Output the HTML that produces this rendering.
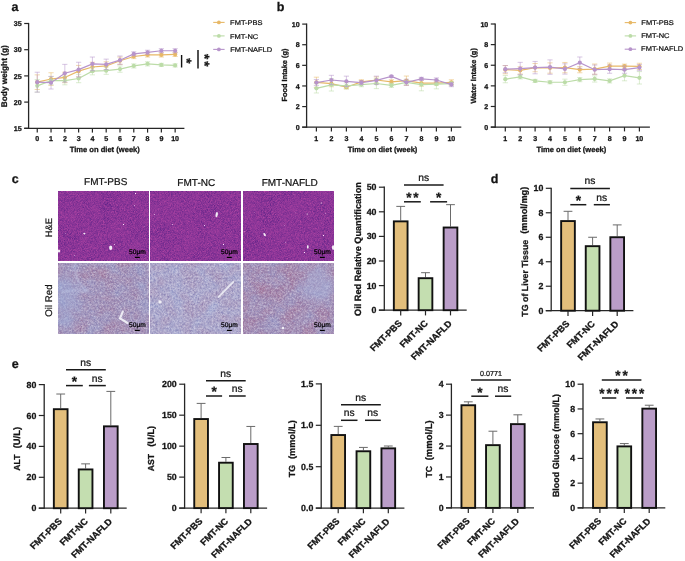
<!DOCTYPE html>
<html><head><meta charset="utf-8"><style>
html,body{margin:0;padding:0;background:#fff;width:685px;height:561px;overflow:hidden}
svg{display:block;font-family:"Liberation Sans", sans-serif;text-rendering:geometricPrecision;filter:blur(0.3px)}
</style></head><body>
<svg width="685" height="561" viewBox="0 0 685 561">
<rect width="685" height="561" fill="#fff"/>
<text transform="translate(14.88 10.55)" font-size="12.50" font-weight="bold" stroke="#141414" stroke-width="0.28" text-anchor="middle" fill="#141414">a</text>
<text transform="translate(280.44 10.75)" font-size="12.50" font-weight="bold" stroke="#141414" stroke-width="0.28" text-anchor="middle" fill="#141414">b</text>
<text transform="translate(15.26 182.75)" font-size="12.50" font-weight="bold" stroke="#141414" stroke-width="0.28" text-anchor="middle" fill="#141414">c</text>
<text transform="translate(494.61 182.82)" font-size="12.50" font-weight="bold" stroke="#141414" stroke-width="0.28" text-anchor="middle" fill="#141414">d</text>
<text transform="translate(15.27 368.25)" font-size="12.50" font-weight="bold" stroke="#141414" stroke-width="0.28" text-anchor="middle" fill="#141414">e</text>
<line x1="28.60" y1="22.90" x2="28.60" y2="128.90" stroke="#262626" stroke-width="1.3"/>
<line x1="24.20" y1="128.30" x2="184.40" y2="128.30" stroke="#262626" stroke-width="1.3"/>
<line x1="24.20" y1="128.30" x2="28.60" y2="128.30" stroke="#262626" stroke-width="1.2"/>
<text transform="translate(21.70 130.91)" font-size="7.10" font-weight="bold" stroke="#141414" stroke-width="0.28" text-anchor="end" fill="#141414">15</text>
<line x1="24.20" y1="102.10" x2="28.60" y2="102.10" stroke="#262626" stroke-width="1.2"/>
<text transform="translate(21.70 104.74)" font-size="7.10" font-weight="bold" stroke="#141414" stroke-width="0.28" text-anchor="end" fill="#141414">20</text>
<line x1="24.20" y1="75.90" x2="28.60" y2="75.90" stroke="#262626" stroke-width="1.2"/>
<text transform="translate(21.70 78.54)" font-size="7.10" font-weight="bold" stroke="#141414" stroke-width="0.28" text-anchor="end" fill="#141414">25</text>
<line x1="24.20" y1="49.70" x2="28.60" y2="49.70" stroke="#262626" stroke-width="1.2"/>
<text transform="translate(21.70 52.34)" font-size="7.10" font-weight="bold" stroke="#141414" stroke-width="0.28" text-anchor="end" fill="#141414">30</text>
<line x1="24.20" y1="23.50" x2="28.60" y2="23.50" stroke="#262626" stroke-width="1.2"/>
<text transform="translate(21.70 26.14)" font-size="7.10" font-weight="bold" stroke="#141414" stroke-width="0.28" text-anchor="end" fill="#141414">35</text>
<line x1="37.25" y1="128.30" x2="37.25" y2="132.60" stroke="#262626" stroke-width="1.2"/>
<text transform="translate(37.26 140.74)" font-size="7.10" font-weight="bold" stroke="#141414" stroke-width="0.28" text-anchor="middle" fill="#141414">0</text>
<line x1="51.04" y1="128.30" x2="51.04" y2="132.60" stroke="#262626" stroke-width="1.2"/>
<text transform="translate(50.92 140.74)" font-size="7.10" font-weight="bold" stroke="#141414" stroke-width="0.28" text-anchor="middle" fill="#141414">1</text>
<line x1="64.83" y1="128.30" x2="64.83" y2="132.60" stroke="#262626" stroke-width="1.2"/>
<text transform="translate(64.85 140.78)" font-size="7.10" font-weight="bold" stroke="#141414" stroke-width="0.28" text-anchor="middle" fill="#141414">2</text>
<line x1="78.62" y1="128.30" x2="78.62" y2="132.60" stroke="#262626" stroke-width="1.2"/>
<text transform="translate(78.67 140.74)" font-size="7.10" font-weight="bold" stroke="#141414" stroke-width="0.28" text-anchor="middle" fill="#141414">3</text>
<line x1="92.41" y1="128.30" x2="92.41" y2="132.60" stroke="#262626" stroke-width="1.2"/>
<text transform="translate(92.38 140.74)" font-size="7.10" font-weight="bold" stroke="#141414" stroke-width="0.28" text-anchor="middle" fill="#141414">4</text>
<line x1="106.20" y1="128.30" x2="106.20" y2="132.60" stroke="#262626" stroke-width="1.2"/>
<text transform="translate(106.19 140.71)" font-size="7.10" font-weight="bold" stroke="#141414" stroke-width="0.28" text-anchor="middle" fill="#141414">5</text>
<line x1="119.99" y1="128.30" x2="119.99" y2="132.60" stroke="#262626" stroke-width="1.2"/>
<text transform="translate(119.99 140.74)" font-size="7.10" font-weight="bold" stroke="#141414" stroke-width="0.28" text-anchor="middle" fill="#141414">6</text>
<line x1="133.78" y1="128.30" x2="133.78" y2="132.60" stroke="#262626" stroke-width="1.2"/>
<text transform="translate(133.78 140.74)" font-size="7.10" font-weight="bold" stroke="#141414" stroke-width="0.28" text-anchor="middle" fill="#141414">7</text>
<line x1="147.57" y1="128.30" x2="147.57" y2="132.60" stroke="#262626" stroke-width="1.2"/>
<text transform="translate(147.57 140.74)" font-size="7.10" font-weight="bold" stroke="#141414" stroke-width="0.28" text-anchor="middle" fill="#141414">8</text>
<line x1="161.36" y1="128.30" x2="161.36" y2="132.60" stroke="#262626" stroke-width="1.2"/>
<text transform="translate(161.37 140.74)" font-size="7.10" font-weight="bold" stroke="#141414" stroke-width="0.28" text-anchor="middle" fill="#141414">9</text>
<line x1="175.15" y1="128.30" x2="175.15" y2="132.60" stroke="#262626" stroke-width="1.2"/>
<text transform="translate(175.07 140.74)" font-size="7.10" font-weight="bold" stroke="#141414" stroke-width="0.28" text-anchor="middle" fill="#141414">10</text>
<path d="M37.25 74.85V89.52M34.65 74.85H39.85M34.65 89.52H39.85" stroke="#E7B867" stroke-width="0.9" opacity="0.6" fill="none"/>
<path d="M51.04 72.76V85.33M48.44 72.76H53.64M48.44 85.33H53.64" stroke="#E7B867" stroke-width="0.9" opacity="0.6" fill="none"/>
<path d="M64.83 72.23V82.71M62.23 72.23H67.43M62.23 82.71H67.43" stroke="#E7B867" stroke-width="0.9" opacity="0.6" fill="none"/>
<path d="M78.62 65.42V76.95M76.02 65.42H81.22M76.02 76.95H81.22" stroke="#E7B867" stroke-width="0.9" opacity="0.6" fill="none"/>
<path d="M92.41 62.28V71.71M89.81 62.28H95.01M89.81 71.71H95.01" stroke="#E7B867" stroke-width="0.9" opacity="0.6" fill="none"/>
<path d="M106.20 61.75V70.14M103.60 61.75H108.80M103.60 70.14H108.80" stroke="#E7B867" stroke-width="0.9" opacity="0.6" fill="none"/>
<path d="M119.99 57.04V64.37M117.39 57.04H122.59M117.39 64.37H122.59" stroke="#E7B867" stroke-width="0.9" opacity="0.6" fill="none"/>
<path d="M133.78 54.42V58.61M131.18 54.42H136.38M131.18 58.61H136.38" stroke="#E7B867" stroke-width="0.9" opacity="0.6" fill="none"/>
<path d="M147.57 52.84V57.04M144.97 52.84H150.17M144.97 57.04H150.17" stroke="#E7B867" stroke-width="0.9" opacity="0.6" fill="none"/>
<path d="M161.36 52.84V57.04M158.76 52.84H163.96M158.76 57.04H163.96" stroke="#E7B867" stroke-width="0.9" opacity="0.6" fill="none"/>
<path d="M175.15 52.32V56.51M172.55 52.32H177.75M172.55 56.51H177.75" stroke="#E7B867" stroke-width="0.9" opacity="0.6" fill="none"/>
<path d="M37.25 82.19 L51.04 79.04 L64.83 77.47 L78.62 71.18 L92.41 66.99 L106.20 65.94 L119.99 60.70 L133.78 56.51 L147.57 54.94 L161.36 54.94 L175.15 54.42" stroke="#E7B867" stroke-width="1.2" fill="none"/>
<circle cx="37.25" cy="82.19" r="2.1" fill="#E7B867"/>
<circle cx="51.04" cy="79.04" r="2.1" fill="#E7B867"/>
<circle cx="64.83" cy="77.47" r="2.1" fill="#E7B867"/>
<circle cx="78.62" cy="71.18" r="2.1" fill="#E7B867"/>
<circle cx="92.41" cy="66.99" r="2.1" fill="#E7B867"/>
<circle cx="106.20" cy="65.94" r="2.1" fill="#E7B867"/>
<circle cx="119.99" cy="60.70" r="2.1" fill="#E7B867"/>
<circle cx="133.78" cy="56.51" r="2.1" fill="#E7B867"/>
<circle cx="147.57" cy="54.94" r="2.1" fill="#E7B867"/>
<circle cx="161.36" cy="54.94" r="2.1" fill="#E7B867"/>
<circle cx="175.15" cy="54.42" r="2.1" fill="#E7B867"/>
<path d="M37.25 79.57V92.14M34.65 79.57H39.85M34.65 92.14H39.85" stroke="#BCDCA8" stroke-width="0.9" opacity="0.6" fill="none"/>
<path d="M51.04 76.42V84.81M48.44 76.42H53.64M48.44 84.81H53.64" stroke="#BCDCA8" stroke-width="0.9" opacity="0.6" fill="none"/>
<path d="M64.83 76.42V84.81M62.23 76.42H67.43M62.23 84.81H67.43" stroke="#BCDCA8" stroke-width="0.9" opacity="0.6" fill="none"/>
<path d="M78.62 74.33V82.71M76.02 74.33H81.22M76.02 82.71H81.22" stroke="#BCDCA8" stroke-width="0.9" opacity="0.6" fill="none"/>
<path d="M92.41 67.52V74.85M89.81 67.52H95.01M89.81 74.85H95.01" stroke="#BCDCA8" stroke-width="0.9" opacity="0.6" fill="none"/>
<path d="M106.20 66.99V74.33M103.60 66.99H108.80M103.60 74.33H108.80" stroke="#BCDCA8" stroke-width="0.9" opacity="0.6" fill="none"/>
<path d="M119.99 65.94V72.23M117.39 65.94H122.59M117.39 72.23H122.59" stroke="#BCDCA8" stroke-width="0.9" opacity="0.6" fill="none"/>
<path d="M133.78 63.85V68.04M131.18 63.85H136.38M131.18 68.04H136.38" stroke="#BCDCA8" stroke-width="0.9" opacity="0.6" fill="none"/>
<path d="M147.57 61.75V65.94M144.97 61.75H150.17M144.97 65.94H150.17" stroke="#BCDCA8" stroke-width="0.9" opacity="0.6" fill="none"/>
<path d="M161.36 63.32V66.47M158.76 63.32H163.96M158.76 66.47H163.96" stroke="#BCDCA8" stroke-width="0.9" opacity="0.6" fill="none"/>
<path d="M175.15 63.85V66.99M172.55 63.85H177.75M172.55 66.99H177.75" stroke="#BCDCA8" stroke-width="0.9" opacity="0.6" fill="none"/>
<path d="M37.25 85.86 L51.04 80.62 L64.83 80.62 L78.62 78.52 L92.41 71.18 L106.20 70.66 L119.99 69.09 L133.78 65.94 L147.57 63.85 L161.36 64.90 L175.15 65.42" stroke="#BCDCA8" stroke-width="1.2" fill="none"/>
<circle cx="37.25" cy="85.86" r="2.1" fill="#BCDCA8"/>
<circle cx="51.04" cy="80.62" r="2.1" fill="#BCDCA8"/>
<circle cx="64.83" cy="80.62" r="2.1" fill="#BCDCA8"/>
<circle cx="78.62" cy="78.52" r="2.1" fill="#BCDCA8"/>
<circle cx="92.41" cy="71.18" r="2.1" fill="#BCDCA8"/>
<circle cx="106.20" cy="70.66" r="2.1" fill="#BCDCA8"/>
<circle cx="119.99" cy="69.09" r="2.1" fill="#BCDCA8"/>
<circle cx="133.78" cy="65.94" r="2.1" fill="#BCDCA8"/>
<circle cx="147.57" cy="63.85" r="2.1" fill="#BCDCA8"/>
<circle cx="161.36" cy="64.90" r="2.1" fill="#BCDCA8"/>
<circle cx="175.15" cy="65.42" r="2.1" fill="#BCDCA8"/>
<path d="M37.25 72.23V92.14M34.65 72.23H39.85M34.65 92.14H39.85" stroke="#B794CB" stroke-width="0.9" opacity="0.6" fill="none"/>
<path d="M51.04 76.42V89.00M48.44 76.42H53.64M48.44 89.00H53.64" stroke="#B794CB" stroke-width="0.9" opacity="0.6" fill="none"/>
<path d="M64.83 64.37V82.19M62.23 64.37H67.43M62.23 82.19H67.43" stroke="#B794CB" stroke-width="0.9" opacity="0.6" fill="none"/>
<path d="M78.62 62.28V76.95M76.02 62.28H81.22M76.02 76.95H81.22" stroke="#B794CB" stroke-width="0.9" opacity="0.6" fill="none"/>
<path d="M92.41 57.04V70.66M89.81 57.04H95.01M89.81 70.66H95.01" stroke="#B794CB" stroke-width="0.9" opacity="0.6" fill="none"/>
<path d="M106.20 59.13V69.61M103.60 59.13H108.80M103.60 69.61H108.80" stroke="#B794CB" stroke-width="0.9" opacity="0.6" fill="none"/>
<path d="M119.99 55.99V64.37M117.39 55.99H122.59M117.39 64.37H122.59" stroke="#B794CB" stroke-width="0.9" opacity="0.6" fill="none"/>
<path d="M133.78 51.80V55.99M131.18 51.80H136.38M131.18 55.99H136.38" stroke="#B794CB" stroke-width="0.9" opacity="0.6" fill="none"/>
<path d="M147.57 50.22V54.42M144.97 50.22H150.17M144.97 54.42H150.17" stroke="#B794CB" stroke-width="0.9" opacity="0.6" fill="none"/>
<path d="M161.36 48.65V52.84M158.76 48.65H163.96M158.76 52.84H163.96" stroke="#B794CB" stroke-width="0.9" opacity="0.6" fill="none"/>
<path d="M175.15 48.65V52.84M172.55 48.65H177.75M172.55 52.84H177.75" stroke="#B794CB" stroke-width="0.9" opacity="0.6" fill="none"/>
<path d="M37.25 82.19 L51.04 82.71 L64.83 73.28 L78.62 69.61 L92.41 63.85 L106.20 64.37 L119.99 60.18 L133.78 53.89 L147.57 52.32 L161.36 50.75 L175.15 50.75" stroke="#B794CB" stroke-width="1.2" fill="none"/>
<circle cx="37.25" cy="82.19" r="2.1" fill="#B794CB"/>
<circle cx="51.04" cy="82.71" r="2.1" fill="#B794CB"/>
<circle cx="64.83" cy="73.28" r="2.1" fill="#B794CB"/>
<circle cx="78.62" cy="69.61" r="2.1" fill="#B794CB"/>
<circle cx="92.41" cy="63.85" r="2.1" fill="#B794CB"/>
<circle cx="106.20" cy="64.37" r="2.1" fill="#B794CB"/>
<circle cx="119.99" cy="60.18" r="2.1" fill="#B794CB"/>
<circle cx="133.78" cy="53.89" r="2.1" fill="#B794CB"/>
<circle cx="147.57" cy="52.32" r="2.1" fill="#B794CB"/>
<circle cx="161.36" cy="50.75" r="2.1" fill="#B794CB"/>
<circle cx="175.15" cy="50.75" r="2.1" fill="#B794CB"/>
<text transform="translate(7.02 76.22) rotate(-90)" font-size="8.26" font-weight="bold" stroke="#141414" stroke-width="0.28" text-anchor="middle" fill="#141414">Body weight (g)</text>
<text transform="translate(104.75 152.11)" font-size="7.58" font-weight="bold" stroke="#141414" stroke-width="0.28" text-anchor="middle" fill="#141414">Time on diet (week)</text>
<line x1="181.60" y1="55.00" x2="181.60" y2="67.50" stroke="#111" stroke-width="1.4"/>
<text transform="translate(182.27 60.89) rotate(90)" font-size="13.50" font-weight="bold" stroke="#141414" stroke-width="0.28" text-anchor="middle" fill="#141414">*</text>
<line x1="198.00" y1="50.10" x2="198.00" y2="68.40" stroke="#333" stroke-width="1.7"/>
<text transform="translate(199.57 56.54) rotate(90)" font-size="13.50" font-weight="bold" stroke="#141414" stroke-width="0.28" text-anchor="middle" fill="#141414">*</text>
<text transform="translate(199.57 63.94) rotate(90)" font-size="13.50" font-weight="bold" stroke="#141414" stroke-width="0.28" text-anchor="middle" fill="#141414">*</text>
<line x1="213.20" y1="22.40" x2="224.60" y2="22.40" stroke="#E7B867" stroke-width="1.1"/>
<circle cx="218.90" cy="22.40" r="1.9" fill="#E7B867"/>
<text transform="translate(230.11 25.19) scale(1.100 1)" font-size="6.80" stroke="#141414" stroke-width="0.22" text-anchor="start" fill="#141414">FMT-PBS</text>
<line x1="213.20" y1="35.90" x2="224.60" y2="35.90" stroke="#BCDCA8" stroke-width="1.1"/>
<circle cx="218.90" cy="35.90" r="1.9" fill="#BCDCA8"/>
<text transform="translate(229.96 38.69) scale(1.100 1)" font-size="6.80" stroke="#141414" stroke-width="0.22" text-anchor="start" fill="#141414">FMT-NC</text>
<line x1="213.20" y1="49.40" x2="224.60" y2="49.40" stroke="#B794CB" stroke-width="1.1"/>
<circle cx="218.90" cy="49.40" r="1.9" fill="#B794CB"/>
<text transform="translate(230.19 51.69) scale(1.100 1)" font-size="6.80" stroke="#141414" stroke-width="0.22" text-anchor="start" fill="#141414">FMT-NAFLD</text>
<line x1="306.60" y1="23.50" x2="306.60" y2="127.80" stroke="#262626" stroke-width="1.3"/>
<line x1="302.20" y1="127.20" x2="461.30" y2="127.20" stroke="#262626" stroke-width="1.3"/>
<line x1="302.20" y1="127.20" x2="306.60" y2="127.20" stroke="#262626" stroke-width="1.2"/>
<text transform="translate(299.70 129.84)" font-size="7.10" font-weight="bold" stroke="#141414" stroke-width="0.28" text-anchor="end" fill="#141414">0</text>
<line x1="302.20" y1="106.58" x2="306.60" y2="106.58" stroke="#262626" stroke-width="1.2"/>
<text transform="translate(299.70 109.26)" font-size="7.10" font-weight="bold" stroke="#141414" stroke-width="0.28" text-anchor="end" fill="#141414">2</text>
<line x1="302.20" y1="85.96" x2="306.60" y2="85.96" stroke="#262626" stroke-width="1.2"/>
<text transform="translate(299.70 88.60)" font-size="7.10" font-weight="bold" stroke="#141414" stroke-width="0.28" text-anchor="end" fill="#141414">4</text>
<line x1="302.20" y1="65.34" x2="306.60" y2="65.34" stroke="#262626" stroke-width="1.2"/>
<text transform="translate(299.70 67.98)" font-size="7.10" font-weight="bold" stroke="#141414" stroke-width="0.28" text-anchor="end" fill="#141414">6</text>
<line x1="302.20" y1="44.72" x2="306.60" y2="44.72" stroke="#262626" stroke-width="1.2"/>
<text transform="translate(299.70 47.36)" font-size="7.10" font-weight="bold" stroke="#141414" stroke-width="0.28" text-anchor="end" fill="#141414">8</text>
<line x1="302.20" y1="24.10" x2="306.60" y2="24.10" stroke="#262626" stroke-width="1.2"/>
<text transform="translate(299.70 26.74)" font-size="7.10" font-weight="bold" stroke="#141414" stroke-width="0.28" text-anchor="end" fill="#141414">10</text>
<line x1="316.40" y1="127.20" x2="316.40" y2="131.50" stroke="#262626" stroke-width="1.2"/>
<text transform="translate(316.28 140.74)" font-size="7.10" font-weight="bold" stroke="#141414" stroke-width="0.28" text-anchor="middle" fill="#141414">1</text>
<line x1="331.40" y1="127.20" x2="331.40" y2="131.50" stroke="#262626" stroke-width="1.2"/>
<text transform="translate(331.42 140.78)" font-size="7.10" font-weight="bold" stroke="#141414" stroke-width="0.28" text-anchor="middle" fill="#141414">2</text>
<line x1="346.40" y1="127.20" x2="346.40" y2="131.50" stroke="#262626" stroke-width="1.2"/>
<text transform="translate(346.45 140.74)" font-size="7.10" font-weight="bold" stroke="#141414" stroke-width="0.28" text-anchor="middle" fill="#141414">3</text>
<line x1="361.40" y1="127.20" x2="361.40" y2="131.50" stroke="#262626" stroke-width="1.2"/>
<text transform="translate(361.37 140.74)" font-size="7.10" font-weight="bold" stroke="#141414" stroke-width="0.28" text-anchor="middle" fill="#141414">4</text>
<line x1="376.40" y1="127.20" x2="376.40" y2="131.50" stroke="#262626" stroke-width="1.2"/>
<text transform="translate(376.39 140.71)" font-size="7.10" font-weight="bold" stroke="#141414" stroke-width="0.28" text-anchor="middle" fill="#141414">5</text>
<line x1="391.40" y1="127.20" x2="391.40" y2="131.50" stroke="#262626" stroke-width="1.2"/>
<text transform="translate(391.40 140.74)" font-size="7.10" font-weight="bold" stroke="#141414" stroke-width="0.28" text-anchor="middle" fill="#141414">6</text>
<line x1="406.40" y1="127.20" x2="406.40" y2="131.50" stroke="#262626" stroke-width="1.2"/>
<text transform="translate(406.40 140.74)" font-size="7.10" font-weight="bold" stroke="#141414" stroke-width="0.28" text-anchor="middle" fill="#141414">7</text>
<line x1="421.40" y1="127.20" x2="421.40" y2="131.50" stroke="#262626" stroke-width="1.2"/>
<text transform="translate(421.40 140.74)" font-size="7.10" font-weight="bold" stroke="#141414" stroke-width="0.28" text-anchor="middle" fill="#141414">8</text>
<line x1="436.40" y1="127.20" x2="436.40" y2="131.50" stroke="#262626" stroke-width="1.2"/>
<text transform="translate(436.41 140.74)" font-size="7.10" font-weight="bold" stroke="#141414" stroke-width="0.28" text-anchor="middle" fill="#141414">9</text>
<line x1="451.40" y1="127.20" x2="451.40" y2="131.50" stroke="#262626" stroke-width="1.2"/>
<text transform="translate(451.32 140.74)" font-size="7.10" font-weight="bold" stroke="#141414" stroke-width="0.28" text-anchor="middle" fill="#141414">10</text>
<path d="M316.40 77.20V87.51M313.80 77.20H319.00M313.80 87.51H319.00" stroke="#E7B867" stroke-width="0.9" opacity="0.6" fill="none"/>
<path d="M331.40 80.60V86.78M328.80 80.60H334.00M328.80 86.78H334.00" stroke="#E7B867" stroke-width="0.9" opacity="0.6" fill="none"/>
<path d="M346.40 85.65V88.74M343.80 85.65H349.00M343.80 88.74H349.00" stroke="#E7B867" stroke-width="0.9" opacity="0.6" fill="none"/>
<path d="M361.40 79.77V83.90M358.80 79.77H364.00M358.80 83.90H364.00" stroke="#E7B867" stroke-width="0.9" opacity="0.6" fill="none"/>
<path d="M376.40 76.89V83.07M373.80 76.89H379.00M373.80 83.07H379.00" stroke="#E7B867" stroke-width="0.9" opacity="0.6" fill="none"/>
<path d="M391.40 79.77V83.90M388.80 79.77H394.00M388.80 83.90H394.00" stroke="#E7B867" stroke-width="0.9" opacity="0.6" fill="none"/>
<path d="M406.40 76.06V85.34M403.80 76.06H409.00M403.80 85.34H409.00" stroke="#E7B867" stroke-width="0.9" opacity="0.6" fill="none"/>
<path d="M421.40 79.98V86.17M418.80 79.98H424.00M418.80 86.17H424.00" stroke="#E7B867" stroke-width="0.9" opacity="0.6" fill="none"/>
<path d="M436.40 81.01V85.14M433.80 81.01H439.00M433.80 85.14H439.00" stroke="#E7B867" stroke-width="0.9" opacity="0.6" fill="none"/>
<path d="M451.40 79.77V84.93M448.80 79.77H454.00M448.80 84.93H454.00" stroke="#E7B867" stroke-width="0.9" opacity="0.6" fill="none"/>
<path d="M316.40 82.35 L331.40 83.69 L346.40 87.20 L361.40 81.84 L376.40 79.98 L391.40 81.84 L406.40 80.70 L421.40 83.07 L436.40 83.07 L451.40 82.35" stroke="#E7B867" stroke-width="1.2" fill="none"/>
<circle cx="316.40" cy="82.35" r="2.1" fill="#E7B867"/>
<circle cx="331.40" cy="83.69" r="2.1" fill="#E7B867"/>
<circle cx="346.40" cy="87.20" r="2.1" fill="#E7B867"/>
<circle cx="361.40" cy="81.84" r="2.1" fill="#E7B867"/>
<circle cx="376.40" cy="79.98" r="2.1" fill="#E7B867"/>
<circle cx="391.40" cy="81.84" r="2.1" fill="#E7B867"/>
<circle cx="406.40" cy="80.70" r="2.1" fill="#E7B867"/>
<circle cx="421.40" cy="83.07" r="2.1" fill="#E7B867"/>
<circle cx="436.40" cy="83.07" r="2.1" fill="#E7B867"/>
<circle cx="451.40" cy="82.35" r="2.1" fill="#E7B867"/>
<path d="M316.40 83.69V92.97M313.80 83.69H319.00M313.80 92.97H319.00" stroke="#BCDCA8" stroke-width="0.9" opacity="0.6" fill="none"/>
<path d="M331.40 78.64V91.01M328.80 78.64H334.00M328.80 91.01H334.00" stroke="#BCDCA8" stroke-width="0.9" opacity="0.6" fill="none"/>
<path d="M346.40 82.87V89.05M343.80 82.87H349.00M343.80 89.05H349.00" stroke="#BCDCA8" stroke-width="0.9" opacity="0.6" fill="none"/>
<path d="M361.40 82.56V86.68M358.80 82.56H364.00M358.80 86.68H364.00" stroke="#BCDCA8" stroke-width="0.9" opacity="0.6" fill="none"/>
<path d="M376.40 78.33V88.64M373.80 78.33H379.00M373.80 88.64H379.00" stroke="#BCDCA8" stroke-width="0.9" opacity="0.6" fill="none"/>
<path d="M391.40 83.28V87.40M388.80 83.28H394.00M388.80 87.40H394.00" stroke="#BCDCA8" stroke-width="0.9" opacity="0.6" fill="none"/>
<path d="M406.40 80.29V84.41M403.80 80.29H409.00M403.80 84.41H409.00" stroke="#BCDCA8" stroke-width="0.9" opacity="0.6" fill="none"/>
<path d="M421.40 78.43V90.81M418.80 78.43H424.00M418.80 90.81H424.00" stroke="#BCDCA8" stroke-width="0.9" opacity="0.6" fill="none"/>
<path d="M436.40 79.57V88.85M433.80 79.57H439.00M433.80 88.85H439.00" stroke="#BCDCA8" stroke-width="0.9" opacity="0.6" fill="none"/>
<path d="M451.40 81.63V85.75M448.80 81.63H454.00M448.80 85.75H454.00" stroke="#BCDCA8" stroke-width="0.9" opacity="0.6" fill="none"/>
<path d="M316.40 88.33 L331.40 84.83 L346.40 85.96 L361.40 84.62 L376.40 83.49 L391.40 85.34 L406.40 82.35 L421.40 84.62 L436.40 84.21 L451.40 83.69" stroke="#BCDCA8" stroke-width="1.2" fill="none"/>
<circle cx="316.40" cy="88.33" r="2.1" fill="#BCDCA8"/>
<circle cx="331.40" cy="84.83" r="2.1" fill="#BCDCA8"/>
<circle cx="346.40" cy="85.96" r="2.1" fill="#BCDCA8"/>
<circle cx="361.40" cy="84.62" r="2.1" fill="#BCDCA8"/>
<circle cx="376.40" cy="83.49" r="2.1" fill="#BCDCA8"/>
<circle cx="391.40" cy="85.34" r="2.1" fill="#BCDCA8"/>
<circle cx="406.40" cy="82.35" r="2.1" fill="#BCDCA8"/>
<circle cx="421.40" cy="84.62" r="2.1" fill="#BCDCA8"/>
<circle cx="436.40" cy="84.21" r="2.1" fill="#BCDCA8"/>
<circle cx="451.40" cy="83.69" r="2.1" fill="#BCDCA8"/>
<path d="M316.40 79.46V85.65M313.80 79.46H319.00M313.80 85.65H319.00" stroke="#B794CB" stroke-width="0.9" opacity="0.6" fill="none"/>
<path d="M331.40 75.34V84.62M328.80 75.34H334.00M328.80 84.62H334.00" stroke="#B794CB" stroke-width="0.9" opacity="0.6" fill="none"/>
<path d="M346.40 76.17V86.48M343.80 76.17H349.00M343.80 86.48H349.00" stroke="#B794CB" stroke-width="0.9" opacity="0.6" fill="none"/>
<path d="M361.40 80.50V84.62M358.80 80.50H364.00M358.80 84.62H364.00" stroke="#B794CB" stroke-width="0.9" opacity="0.6" fill="none"/>
<path d="M376.40 76.17V84.41M373.80 76.17H379.00M373.80 84.41H379.00" stroke="#B794CB" stroke-width="0.9" opacity="0.6" fill="none"/>
<path d="M391.40 75.44V77.51M388.80 75.44H394.00M388.80 77.51H394.00" stroke="#B794CB" stroke-width="0.9" opacity="0.6" fill="none"/>
<path d="M406.40 79.26V85.44M403.80 79.26H409.00M403.80 85.44H409.00" stroke="#B794CB" stroke-width="0.9" opacity="0.6" fill="none"/>
<path d="M421.40 77.30V80.39M418.80 77.30H424.00M418.80 80.39H424.00" stroke="#B794CB" stroke-width="0.9" opacity="0.6" fill="none"/>
<path d="M436.40 77.92V82.04M433.80 77.92H439.00M433.80 82.04H439.00" stroke="#B794CB" stroke-width="0.9" opacity="0.6" fill="none"/>
<path d="M451.40 82.56V86.68M448.80 82.56H454.00M448.80 86.68H454.00" stroke="#B794CB" stroke-width="0.9" opacity="0.6" fill="none"/>
<path d="M316.40 82.56 L331.40 79.98 L346.40 81.32 L361.40 82.56 L376.40 80.29 L391.40 76.47 L406.40 82.35 L421.40 78.85 L436.40 79.98 L451.40 84.62" stroke="#B794CB" stroke-width="1.2" fill="none"/>
<circle cx="316.40" cy="82.56" r="2.1" fill="#B794CB"/>
<circle cx="331.40" cy="79.98" r="2.1" fill="#B794CB"/>
<circle cx="346.40" cy="81.32" r="2.1" fill="#B794CB"/>
<circle cx="361.40" cy="82.56" r="2.1" fill="#B794CB"/>
<circle cx="376.40" cy="80.29" r="2.1" fill="#B794CB"/>
<circle cx="391.40" cy="76.47" r="2.1" fill="#B794CB"/>
<circle cx="406.40" cy="82.35" r="2.1" fill="#B794CB"/>
<circle cx="421.40" cy="78.85" r="2.1" fill="#B794CB"/>
<circle cx="436.40" cy="79.98" r="2.1" fill="#B794CB"/>
<circle cx="451.40" cy="84.62" r="2.1" fill="#B794CB"/>
<text transform="translate(287.39 75.06) rotate(-90)" font-size="7.39" font-weight="bold" stroke="#141414" stroke-width="0.28" text-anchor="middle" fill="#141414">Food Intake (g)</text>
<text transform="translate(382.55 151.90)" font-size="7.53" font-weight="bold" stroke="#141414" stroke-width="0.28" text-anchor="middle" fill="#141414">Time on diet (week)</text>
<line x1="495.20" y1="23.40" x2="495.20" y2="127.70" stroke="#262626" stroke-width="1.3"/>
<line x1="490.80" y1="127.10" x2="649.90" y2="127.10" stroke="#262626" stroke-width="1.3"/>
<line x1="490.80" y1="127.10" x2="495.20" y2="127.10" stroke="#262626" stroke-width="1.2"/>
<text transform="translate(488.30 129.74)" font-size="7.10" font-weight="bold" stroke="#141414" stroke-width="0.28" text-anchor="end" fill="#141414">0</text>
<line x1="490.80" y1="106.48" x2="495.20" y2="106.48" stroke="#262626" stroke-width="1.2"/>
<text transform="translate(488.30 109.16)" font-size="7.10" font-weight="bold" stroke="#141414" stroke-width="0.28" text-anchor="end" fill="#141414">2</text>
<line x1="490.80" y1="85.86" x2="495.20" y2="85.86" stroke="#262626" stroke-width="1.2"/>
<text transform="translate(488.30 88.50)" font-size="7.10" font-weight="bold" stroke="#141414" stroke-width="0.28" text-anchor="end" fill="#141414">4</text>
<line x1="490.80" y1="65.24" x2="495.20" y2="65.24" stroke="#262626" stroke-width="1.2"/>
<text transform="translate(488.30 67.88)" font-size="7.10" font-weight="bold" stroke="#141414" stroke-width="0.28" text-anchor="end" fill="#141414">6</text>
<line x1="490.80" y1="44.62" x2="495.20" y2="44.62" stroke="#262626" stroke-width="1.2"/>
<text transform="translate(488.30 47.26)" font-size="7.10" font-weight="bold" stroke="#141414" stroke-width="0.28" text-anchor="end" fill="#141414">8</text>
<line x1="490.80" y1="24.00" x2="495.20" y2="24.00" stroke="#262626" stroke-width="1.2"/>
<text transform="translate(488.30 26.64)" font-size="7.10" font-weight="bold" stroke="#141414" stroke-width="0.28" text-anchor="end" fill="#141414">10</text>
<line x1="505.30" y1="127.10" x2="505.30" y2="131.40" stroke="#262626" stroke-width="1.2"/>
<text transform="translate(505.18 140.74)" font-size="7.10" font-weight="bold" stroke="#141414" stroke-width="0.28" text-anchor="middle" fill="#141414">1</text>
<line x1="520.20" y1="127.10" x2="520.20" y2="131.40" stroke="#262626" stroke-width="1.2"/>
<text transform="translate(520.22 140.78)" font-size="7.10" font-weight="bold" stroke="#141414" stroke-width="0.28" text-anchor="middle" fill="#141414">2</text>
<line x1="535.10" y1="127.10" x2="535.10" y2="131.40" stroke="#262626" stroke-width="1.2"/>
<text transform="translate(535.15 140.74)" font-size="7.10" font-weight="bold" stroke="#141414" stroke-width="0.28" text-anchor="middle" fill="#141414">3</text>
<line x1="550.00" y1="127.10" x2="550.00" y2="131.40" stroke="#262626" stroke-width="1.2"/>
<text transform="translate(549.97 140.74)" font-size="7.10" font-weight="bold" stroke="#141414" stroke-width="0.28" text-anchor="middle" fill="#141414">4</text>
<line x1="564.90" y1="127.10" x2="564.90" y2="131.40" stroke="#262626" stroke-width="1.2"/>
<text transform="translate(564.89 140.71)" font-size="7.10" font-weight="bold" stroke="#141414" stroke-width="0.28" text-anchor="middle" fill="#141414">5</text>
<line x1="579.80" y1="127.10" x2="579.80" y2="131.40" stroke="#262626" stroke-width="1.2"/>
<text transform="translate(579.80 140.74)" font-size="7.10" font-weight="bold" stroke="#141414" stroke-width="0.28" text-anchor="middle" fill="#141414">6</text>
<line x1="594.70" y1="127.10" x2="594.70" y2="131.40" stroke="#262626" stroke-width="1.2"/>
<text transform="translate(594.70 140.74)" font-size="7.10" font-weight="bold" stroke="#141414" stroke-width="0.28" text-anchor="middle" fill="#141414">7</text>
<line x1="609.60" y1="127.10" x2="609.60" y2="131.40" stroke="#262626" stroke-width="1.2"/>
<text transform="translate(609.60 140.74)" font-size="7.10" font-weight="bold" stroke="#141414" stroke-width="0.28" text-anchor="middle" fill="#141414">8</text>
<line x1="624.50" y1="127.10" x2="624.50" y2="131.40" stroke="#262626" stroke-width="1.2"/>
<text transform="translate(624.51 140.74)" font-size="7.10" font-weight="bold" stroke="#141414" stroke-width="0.28" text-anchor="middle" fill="#141414">9</text>
<line x1="639.40" y1="127.10" x2="639.40" y2="131.40" stroke="#262626" stroke-width="1.2"/>
<text transform="translate(639.32 140.74)" font-size="7.10" font-weight="bold" stroke="#141414" stroke-width="0.28" text-anchor="middle" fill="#141414">10</text>
<path d="M505.30 65.55V73.80M502.70 65.55H507.90M502.70 73.80H507.90" stroke="#E7B867" stroke-width="0.9" opacity="0.6" fill="none"/>
<path d="M520.20 66.79V74.00M517.60 66.79H522.80M517.60 74.00H522.80" stroke="#E7B867" stroke-width="0.9" opacity="0.6" fill="none"/>
<path d="M535.10 63.49V71.74M532.50 63.49H537.70M532.50 71.74H537.70" stroke="#E7B867" stroke-width="0.9" opacity="0.6" fill="none"/>
<path d="M550.00 62.87V73.18M547.40 62.87H552.60M547.40 73.18H552.60" stroke="#E7B867" stroke-width="0.9" opacity="0.6" fill="none"/>
<path d="M564.90 62.46V72.77M562.30 62.46H567.50M562.30 72.77H567.50" stroke="#E7B867" stroke-width="0.9" opacity="0.6" fill="none"/>
<path d="M579.80 66.58V72.77M577.20 66.58H582.40M577.20 72.77H582.40" stroke="#E7B867" stroke-width="0.9" opacity="0.6" fill="none"/>
<path d="M594.70 64.00V74.31M592.10 64.00H597.30M592.10 74.31H597.30" stroke="#E7B867" stroke-width="0.9" opacity="0.6" fill="none"/>
<path d="M609.60 63.07V69.26M607.00 63.07H612.20M607.00 69.26H612.20" stroke="#E7B867" stroke-width="0.9" opacity="0.6" fill="none"/>
<path d="M624.50 64.11V68.23M621.90 64.11H627.10M621.90 68.23H627.10" stroke="#E7B867" stroke-width="0.9" opacity="0.6" fill="none"/>
<path d="M639.40 63.28V69.47M636.80 63.28H642.00M636.80 69.47H642.00" stroke="#E7B867" stroke-width="0.9" opacity="0.6" fill="none"/>
<path d="M505.30 69.67 L520.20 70.39 L535.10 67.61 L550.00 68.02 L564.90 67.61 L579.80 69.67 L594.70 69.16 L609.60 66.17 L624.50 66.17 L639.40 66.37" stroke="#E7B867" stroke-width="1.2" fill="none"/>
<circle cx="505.30" cy="69.67" r="2.1" fill="#E7B867"/>
<circle cx="520.20" cy="70.39" r="2.1" fill="#E7B867"/>
<circle cx="535.10" cy="67.61" r="2.1" fill="#E7B867"/>
<circle cx="550.00" cy="68.02" r="2.1" fill="#E7B867"/>
<circle cx="564.90" cy="67.61" r="2.1" fill="#E7B867"/>
<circle cx="579.80" cy="69.67" r="2.1" fill="#E7B867"/>
<circle cx="594.70" cy="69.16" r="2.1" fill="#E7B867"/>
<circle cx="609.60" cy="66.17" r="2.1" fill="#E7B867"/>
<circle cx="624.50" cy="66.17" r="2.1" fill="#E7B867"/>
<circle cx="639.40" cy="66.37" r="2.1" fill="#E7B867"/>
<path d="M505.30 75.55V82.77M502.70 75.55H507.90M502.70 82.77H507.90" stroke="#BCDCA8" stroke-width="0.9" opacity="0.6" fill="none"/>
<path d="M520.20 74.83V78.95M517.60 74.83H522.80M517.60 78.95H522.80" stroke="#BCDCA8" stroke-width="0.9" opacity="0.6" fill="none"/>
<path d="M535.10 79.36V82.46M532.50 79.36H537.70M532.50 82.46H537.70" stroke="#BCDCA8" stroke-width="0.9" opacity="0.6" fill="none"/>
<path d="M550.00 80.70V83.80M547.40 80.70H552.60M547.40 83.80H552.60" stroke="#BCDCA8" stroke-width="0.9" opacity="0.6" fill="none"/>
<path d="M564.90 79.16V85.34M562.30 79.16H567.50M562.30 85.34H567.50" stroke="#BCDCA8" stroke-width="0.9" opacity="0.6" fill="none"/>
<path d="M579.80 77.61V81.74M577.20 77.61H582.40M577.20 81.74H582.40" stroke="#BCDCA8" stroke-width="0.9" opacity="0.6" fill="none"/>
<path d="M594.70 75.86V82.05M592.10 75.86H597.30M592.10 82.05H597.30" stroke="#BCDCA8" stroke-width="0.9" opacity="0.6" fill="none"/>
<path d="M609.60 78.85V82.97M607.00 78.85H612.20M607.00 82.97H612.20" stroke="#BCDCA8" stroke-width="0.9" opacity="0.6" fill="none"/>
<path d="M624.50 70.50V80.81M621.90 70.50H627.10M621.90 80.81H627.10" stroke="#BCDCA8" stroke-width="0.9" opacity="0.6" fill="none"/>
<path d="M639.40 71.63V84.00M636.80 71.63H642.00M636.80 84.00H642.00" stroke="#BCDCA8" stroke-width="0.9" opacity="0.6" fill="none"/>
<path d="M505.30 79.16 L520.20 76.89 L535.10 80.91 L550.00 82.25 L564.90 82.25 L579.80 79.67 L594.70 78.95 L609.60 80.91 L624.50 75.65 L639.40 77.82" stroke="#BCDCA8" stroke-width="1.2" fill="none"/>
<circle cx="505.30" cy="79.16" r="2.1" fill="#BCDCA8"/>
<circle cx="520.20" cy="76.89" r="2.1" fill="#BCDCA8"/>
<circle cx="535.10" cy="80.91" r="2.1" fill="#BCDCA8"/>
<circle cx="550.00" cy="82.25" r="2.1" fill="#BCDCA8"/>
<circle cx="564.90" cy="82.25" r="2.1" fill="#BCDCA8"/>
<circle cx="579.80" cy="79.67" r="2.1" fill="#BCDCA8"/>
<circle cx="594.70" cy="78.95" r="2.1" fill="#BCDCA8"/>
<circle cx="609.60" cy="80.91" r="2.1" fill="#BCDCA8"/>
<circle cx="624.50" cy="75.65" r="2.1" fill="#BCDCA8"/>
<circle cx="639.40" cy="77.82" r="2.1" fill="#BCDCA8"/>
<path d="M505.30 65.55V72.77M502.70 65.55H507.90M502.70 72.77H507.90" stroke="#B794CB" stroke-width="0.9" opacity="0.6" fill="none"/>
<path d="M520.20 62.35V74.73M517.60 62.35H522.80M517.60 74.73H522.80" stroke="#B794CB" stroke-width="0.9" opacity="0.6" fill="none"/>
<path d="M535.10 61.43V73.80M532.50 61.43H537.70M532.50 73.80H537.70" stroke="#B794CB" stroke-width="0.9" opacity="0.6" fill="none"/>
<path d="M550.00 59.88V74.31M547.40 59.88H552.60M547.40 74.31H552.60" stroke="#B794CB" stroke-width="0.9" opacity="0.6" fill="none"/>
<path d="M564.90 63.80V74.11M562.30 63.80H567.50M562.30 74.11H567.50" stroke="#B794CB" stroke-width="0.9" opacity="0.6" fill="none"/>
<path d="M579.80 56.99V68.33M577.20 56.99H582.40M577.20 68.33H582.40" stroke="#B794CB" stroke-width="0.9" opacity="0.6" fill="none"/>
<path d="M594.70 65.03V74.31M592.10 65.03H597.30M592.10 74.31H597.30" stroke="#B794CB" stroke-width="0.9" opacity="0.6" fill="none"/>
<path d="M609.60 65.03V73.28M607.00 65.03H612.20M607.00 73.28H612.20" stroke="#B794CB" stroke-width="0.9" opacity="0.6" fill="none"/>
<path d="M624.50 66.06V73.28M621.90 66.06H627.10M621.90 73.28H627.10" stroke="#B794CB" stroke-width="0.9" opacity="0.6" fill="none"/>
<path d="M639.40 64.52V70.70M636.80 64.52H642.00M636.80 70.70H642.00" stroke="#B794CB" stroke-width="0.9" opacity="0.6" fill="none"/>
<path d="M505.30 69.16 L520.20 68.54 L535.10 67.61 L550.00 67.10 L564.90 68.95 L579.80 62.66 L594.70 69.67 L609.60 69.16 L624.50 69.67 L639.40 67.61" stroke="#B794CB" stroke-width="1.2" fill="none"/>
<circle cx="505.30" cy="69.16" r="2.1" fill="#B794CB"/>
<circle cx="520.20" cy="68.54" r="2.1" fill="#B794CB"/>
<circle cx="535.10" cy="67.61" r="2.1" fill="#B794CB"/>
<circle cx="550.00" cy="67.10" r="2.1" fill="#B794CB"/>
<circle cx="564.90" cy="68.95" r="2.1" fill="#B794CB"/>
<circle cx="579.80" cy="62.66" r="2.1" fill="#B794CB"/>
<circle cx="594.70" cy="69.67" r="2.1" fill="#B794CB"/>
<circle cx="609.60" cy="69.16" r="2.1" fill="#B794CB"/>
<circle cx="624.50" cy="69.67" r="2.1" fill="#B794CB"/>
<circle cx="639.40" cy="67.61" r="2.1" fill="#B794CB"/>
<text transform="translate(476.36 75.87) rotate(-90)" font-size="7.45" font-weight="bold" stroke="#141414" stroke-width="0.28" text-anchor="middle" fill="#141414">Water Intake (g)</text>
<text transform="translate(571.40 151.80)" font-size="7.54" font-weight="bold" stroke="#141414" stroke-width="0.28" text-anchor="middle" fill="#141414">Time on diet (week)</text>
<line x1="624.70" y1="22.60" x2="636.10" y2="22.60" stroke="#E7B867" stroke-width="1.1"/>
<circle cx="630.40" cy="22.60" r="1.9" fill="#E7B867"/>
<text transform="translate(641.36 24.89) scale(1.100 1)" font-size="6.80" stroke="#141414" stroke-width="0.22" text-anchor="start" fill="#141414">FMT-PBS</text>
<line x1="624.70" y1="35.90" x2="636.10" y2="35.90" stroke="#BCDCA8" stroke-width="1.1"/>
<circle cx="630.40" cy="35.90" r="1.9" fill="#BCDCA8"/>
<text transform="translate(641.26 38.19) scale(1.100 1)" font-size="6.80" stroke="#141414" stroke-width="0.22" text-anchor="start" fill="#141414">FMT-NC</text>
<line x1="624.70" y1="49.20" x2="636.10" y2="49.20" stroke="#B794CB" stroke-width="1.1"/>
<circle cx="630.40" cy="49.20" r="1.9" fill="#B794CB"/>
<text transform="translate(641.09 51.49) scale(1.100 1)" font-size="6.80" stroke="#141414" stroke-width="0.22" text-anchor="start" fill="#141414">FMT-NAFLD</text>
<defs><filter id="he" x="0" y="0" width="1" height="1" color-interpolation-filters="sRGB">
 <feTurbulence type="fractalNoise" baseFrequency="1.3" numOctaves="2" seed="3" result="n"/>
 <feColorMatrix in="n" type="matrix" values="0.471 0 0 0 0.298  0.196 0 0 0 0.106  0.157 0 0 0 0.510  0 0 0 0 1" result="c"/>
 <feTurbulence type="fractalNoise" baseFrequency="0.05" numOctaves="2" seed="4" result="m"/>
 <feColorMatrix in="m" type="matrix" values="0 0 0 0 0.62  0 0 0 0 0.24  0 0 0 0 0.62  0.9 0 0 0 -0.3" result="mc"/>
 <feTurbulence type="fractalNoise" baseFrequency="0.9" numOctaves="1" seed="11" result="n2"/>
 <feColorMatrix in="n2" type="matrix" values="0 0 0 0 1  0 0 0 0 0.9  0 0 0 0 1  0 -30 0 0 6.6" result="w"/>
 <feMerge><feMergeNode in="c"/><feMergeNode in="mc"/><feMergeNode in="w"/></feMerge>
 <feGaussianBlur stdDeviation="0.3"/>
</filter>
<filter id="or0" x="0" y="0" width="1" height="1" color-interpolation-filters="sRGB">
 <feTurbulence type="fractalNoise" baseFrequency="0.06" numOctaves="3" seed="7" result="n"/>
 <feColorMatrix in="n" type="matrix" values="-0.049 0 0 0 0.605  0.172 0 0 0 0.424  0.208 0 0 0 0.574  0 0 0 0 1" result="c"/>
 <feTurbulence type="fractalNoise" baseFrequency="0.5" numOctaves="2" seed="37" result="m"/>
 <feColorMatrix in="m" type="matrix" values="0 0 0 0 0.93  0 0 0 0 0.92  0 0 0 0 0.96  0.9 0 0 0 -0.320" result="mw"/>
 <feTurbulence type="fractalNoise" baseFrequency="2.3" numOctaves="1" seed="17" result="n2"/>
 <feColorMatrix in="n2" type="matrix" values="0 0 0 0 0.94  0 0 0 0 0.93  0 0 0 0 0.97  1.1 0 0 0 -0.48" result="w"/>
 <feTurbulence type="fractalNoise" baseFrequency="2.7" numOctaves="1" seed="27" result="n3"/>
 <feColorMatrix in="n3" type="matrix" values="0 0 0 0 0.40  0 0 0 0 0.42  0 0 0 0 0.70  0 -1.1 0 0 0.5" result="d"/>
 <feMerge><feMergeNode in="c"/><feMergeNode in="mw"/><feMergeNode in="w"/><feMergeNode in="d"/></feMerge>
 <feGaussianBlur stdDeviation="0.6"/>
</filter>
<filter id="or1" x="0" y="0" width="1" height="1" color-interpolation-filters="sRGB">
 <feTurbulence type="fractalNoise" baseFrequency="0.06" numOctaves="3" seed="8" result="n"/>
 <feColorMatrix in="n" type="matrix" values="-0.025 0 0 0 0.591  0.159 0 0 0 0.466  0.184 0 0 0 0.627  0 0 0 0 1" result="c"/>
 <feTurbulence type="fractalNoise" baseFrequency="0.5" numOctaves="2" seed="38" result="m"/>
 <feColorMatrix in="m" type="matrix" values="0 0 0 0 0.93  0 0 0 0 0.92  0 0 0 0 0.96  0.9 0 0 0 -0.220" result="mw"/>
 <feTurbulence type="fractalNoise" baseFrequency="2.3" numOctaves="1" seed="18" result="n2"/>
 <feColorMatrix in="n2" type="matrix" values="0 0 0 0 0.94  0 0 0 0 0.93  0 0 0 0 0.97  1.1 0 0 0 -0.48" result="w"/>
 <feTurbulence type="fractalNoise" baseFrequency="2.7" numOctaves="1" seed="28" result="n3"/>
 <feColorMatrix in="n3" type="matrix" values="0 0 0 0 0.40  0 0 0 0 0.42  0 0 0 0 0.70  0 -1.1 0 0 0.5" result="d"/>
 <feMerge><feMergeNode in="c"/><feMergeNode in="mw"/><feMergeNode in="w"/><feMergeNode in="d"/></feMerge>
 <feGaussianBlur stdDeviation="0.6"/>
</filter>
<filter id="or2" x="0" y="0" width="1" height="1" color-interpolation-filters="sRGB">
 <feTurbulence type="fractalNoise" baseFrequency="0.06" numOctaves="3" seed="9" result="n"/>
 <feColorMatrix in="n" type="matrix" values="-0.049 0 0 0 0.615  0.172 0 0 0 0.409  0.208 0 0 0 0.558  0 0 0 0 1" result="c"/>
 <feTurbulence type="fractalNoise" baseFrequency="0.5" numOctaves="2" seed="39" result="m"/>
 <feColorMatrix in="m" type="matrix" values="0 0 0 0 0.93  0 0 0 0 0.92  0 0 0 0 0.96  0.9 0 0 0 -0.340" result="mw"/>
 <feTurbulence type="fractalNoise" baseFrequency="2.3" numOctaves="1" seed="19" result="n2"/>
 <feColorMatrix in="n2" type="matrix" values="0 0 0 0 0.94  0 0 0 0 0.93  0 0 0 0 0.97  1.1 0 0 0 -0.48" result="w"/>
 <feTurbulence type="fractalNoise" baseFrequency="2.7" numOctaves="1" seed="29" result="n3"/>
 <feColorMatrix in="n3" type="matrix" values="0 0 0 0 0.40  0 0 0 0 0.42  0 0 0 0 0.70  0 -1.1 0 0 0.5" result="d"/>
 <feMerge><feMergeNode in="c"/><feMergeNode in="mw"/><feMergeNode in="w"/><feMergeNode in="d"/></feMerge>
 <feGaussianBlur stdDeviation="0.6"/>
</filter></defs>
<rect x="58" y="191" width="91" height="70" filter="url(#he)"/>
<rect x="150" y="191" width="91" height="70" filter="url(#he)"/>
<rect x="243" y="191" width="91" height="70" filter="url(#he)"/>
<rect x="58" y="263" width="91" height="71" filter="url(#or0)"/>
<rect x="150" y="263" width="91" height="71" filter="url(#or1)"/>
<rect x="243" y="263" width="91" height="71" filter="url(#or2)"/>
<ellipse cx="110.7" cy="247.7" rx="1.6" ry="2.2" fill="#fff" opacity="0.9" transform="rotate(0 110.7 247.7)"/>
<ellipse cx="59" cy="251" rx="1.2" ry="1.5" fill="#fff" opacity="0.9" transform="rotate(0 59 251)"/>
<ellipse cx="84.5" cy="233.6" rx="0.9" ry="0.9" fill="#fff" opacity="0.9" transform="rotate(0 84.5 233.6)"/>
<ellipse cx="216.7" cy="214.6" rx="1.2" ry="2.6" fill="#fff" opacity="0.9" transform="rotate(10 216.7 214.6)"/>
<ellipse cx="264.6" cy="234.6" rx="1.0" ry="1.8" fill="#fff" opacity="0.9" transform="rotate(-30 264.6 234.6)"/>
<ellipse cx="307.8" cy="246.9" rx="0.9" ry="1.8" fill="#fff" opacity="0.9" transform="rotate(0 307.8 246.9)"/>
<ellipse cx="321.3" cy="203" rx="0.6" ry="0.6" fill="#fff" opacity="0.9" transform="rotate(0 321.3 203)"/>
<ellipse cx="333.2" cy="247.6" rx="1.3" ry="2.4" fill="#fff" opacity="0.9" transform="rotate(0 333.2 247.6)"/>
<ellipse cx="307.2" cy="214" rx="0.6" ry="0.6" fill="#fff" opacity="0.9" transform="rotate(0 307.2 214)"/>
<filter id="sb" x="-20%" y="-20%" width="140%" height="140%"><feGaussianBlur stdDeviation="1.2"/></filter>
<filter id="sb2" x="-50%" y="-50%" width="200%" height="200%"><feGaussianBlur stdDeviation="5"/></filter>
<clipPath id="or1c"><rect x="58" y="263" width="91" height="71"/></clipPath><clipPath id="or3c"><rect x="243" y="263" width="91" height="71"/></clipPath>
<g clip-path="url(#or1c)"><ellipse cx="66" cy="300" rx="12" ry="30" fill="#9fb0dc" opacity="0.45" filter="url(#sb2)"/><path d="M74 264 L77 280 L86 290 M62 292 L75 290 L88 291" stroke="#c4cdea" stroke-width="1.5" fill="none" opacity="0.6" filter="url(#sb)"/></g>
<g clip-path="url(#or3c)"><ellipse cx="318" cy="285" rx="16" ry="18" fill="#a9b6de" opacity="0.45" filter="url(#sb2)"/></g>
<path d="M122.8 311.7 L120 318.4 L127.5 323" stroke="#f4f4f8" stroke-width="2.2" fill="none" stroke-linecap="round" opacity="0.9"/>
<path d="M218.5 297 L233.2 282" stroke="#eef0f6" stroke-width="1.8" fill="none" stroke-linecap="round" opacity="0.85"/>
<circle cx="160" cy="301.9" r="1.6" fill="#f6f6fa" opacity="0.9"/>
<circle cx="283" cy="328" r="1.3" fill="#f6f6fa" opacity="0.9"/>
<text transform="translate(137.39 253.72)" font-size="6.60" stroke="#000" stroke-width="0.22" text-anchor="middle" fill="#000">50μm</text>
<line x1="134.90" y1="257.40" x2="139.80" y2="257.40" stroke="#000" stroke-width="1.2"/>
<text transform="translate(229.39 253.72)" font-size="6.60" stroke="#000" stroke-width="0.22" text-anchor="middle" fill="#000">50μm</text>
<line x1="226.90" y1="257.40" x2="231.80" y2="257.40" stroke="#000" stroke-width="1.2"/>
<text transform="translate(322.39 253.72)" font-size="6.60" stroke="#000" stroke-width="0.22" text-anchor="middle" fill="#000">50μm</text>
<line x1="319.90" y1="257.40" x2="324.80" y2="257.40" stroke="#000" stroke-width="1.2"/>
<text transform="translate(137.39 326.72)" font-size="6.60" stroke="#000" stroke-width="0.22" text-anchor="middle" fill="#000">50μm</text>
<line x1="134.90" y1="330.40" x2="139.80" y2="330.40" stroke="#000" stroke-width="1.2"/>
<text transform="translate(229.39 326.72)" font-size="6.60" stroke="#000" stroke-width="0.22" text-anchor="middle" fill="#000">50μm</text>
<line x1="226.90" y1="330.40" x2="231.80" y2="330.40" stroke="#000" stroke-width="1.2"/>
<text transform="translate(322.39 326.72)" font-size="6.60" stroke="#000" stroke-width="0.22" text-anchor="middle" fill="#000">50μm</text>
<line x1="319.90" y1="330.40" x2="324.80" y2="330.40" stroke="#000" stroke-width="1.2"/>
<text transform="translate(105.67 185.49)" font-size="9.99" stroke="#141414" stroke-width="0.22" text-anchor="middle" fill="#141414">FMT-PBS</text>
<text transform="translate(196.28 185.55)" font-size="10.04" stroke="#141414" stroke-width="0.22" text-anchor="middle" fill="#141414">FMT-NC</text>
<text transform="translate(289.73 185.55)" font-size="10.02" stroke="#141414" stroke-width="0.22" text-anchor="middle" fill="#141414">FMT-NAFLD</text>
<text transform="translate(52.15 227.68) rotate(-90)" font-size="9.37" stroke="#141414" stroke-width="0.22" text-anchor="middle" fill="#141414">H&amp;E</text>
<text transform="translate(52.46 300.57) rotate(-90)" font-size="9.68" stroke="#141414" stroke-width="0.22" text-anchor="middle" fill="#141414">Oil Red</text>
<line x1="384.30" y1="186.60" x2="384.30" y2="310.80" stroke="#262626" stroke-width="1.3"/>
<line x1="378.90" y1="310.20" x2="466.70" y2="310.20" stroke="#262626" stroke-width="1.3"/>
<line x1="378.90" y1="310.20" x2="384.30" y2="310.20" stroke="#262626" stroke-width="1.2"/>
<text transform="translate(376.45 313.23)" font-size="8.80" font-weight="bold" stroke="#141414" stroke-width="0.28" text-anchor="end" fill="#141414">0</text>
<line x1="378.90" y1="285.60" x2="384.30" y2="285.60" stroke="#262626" stroke-width="1.2"/>
<text transform="translate(376.45 288.63)" font-size="8.80" font-weight="bold" stroke="#141414" stroke-width="0.28" text-anchor="end" fill="#141414">10</text>
<line x1="378.90" y1="261.00" x2="384.30" y2="261.00" stroke="#262626" stroke-width="1.2"/>
<text transform="translate(376.45 264.03)" font-size="8.80" font-weight="bold" stroke="#141414" stroke-width="0.28" text-anchor="end" fill="#141414">20</text>
<line x1="378.90" y1="236.40" x2="384.30" y2="236.40" stroke="#262626" stroke-width="1.2"/>
<text transform="translate(376.45 239.42)" font-size="8.80" font-weight="bold" stroke="#141414" stroke-width="0.28" text-anchor="end" fill="#141414">30</text>
<line x1="378.90" y1="211.80" x2="384.30" y2="211.80" stroke="#262626" stroke-width="1.2"/>
<text transform="translate(376.45 214.83)" font-size="8.80" font-weight="bold" stroke="#141414" stroke-width="0.28" text-anchor="end" fill="#141414">40</text>
<line x1="378.90" y1="187.20" x2="384.30" y2="187.20" stroke="#262626" stroke-width="1.2"/>
<text transform="translate(376.45 190.23)" font-size="8.80" font-weight="bold" stroke="#141414" stroke-width="0.28" text-anchor="end" fill="#141414">50</text>
<line x1="400.70" y1="220.41" x2="400.70" y2="206.39" stroke="#6a6a6a" stroke-width="1.0"/>
<line x1="396.30" y1="206.39" x2="405.10" y2="206.39" stroke="#6a6a6a" stroke-width="1.0"/>
<rect x="393.85" y="221.36" width="13.70" height="88.84" fill="#E3BE7B" stroke="#111" stroke-width="1.9"/>
<line x1="400.70" y1="310.20" x2="400.70" y2="315.40" stroke="#262626" stroke-width="1.2"/>
<line x1="425.50" y1="277.24" x2="425.50" y2="272.69" stroke="#6a6a6a" stroke-width="1.0"/>
<line x1="421.10" y1="272.69" x2="429.90" y2="272.69" stroke="#6a6a6a" stroke-width="1.0"/>
<rect x="418.65" y="278.19" width="13.70" height="32.01" fill="#C4DEB0" stroke="#111" stroke-width="1.9"/>
<line x1="425.50" y1="310.20" x2="425.50" y2="315.40" stroke="#262626" stroke-width="1.2"/>
<line x1="450.50" y1="226.56" x2="450.50" y2="204.67" stroke="#6a6a6a" stroke-width="1.0"/>
<line x1="446.10" y1="204.67" x2="454.90" y2="204.67" stroke="#6a6a6a" stroke-width="1.0"/>
<rect x="443.65" y="227.51" width="13.70" height="82.69" fill="#BA9DC8" stroke="#111" stroke-width="1.9"/>
<line x1="450.50" y1="310.20" x2="450.50" y2="315.40" stroke="#262626" stroke-width="1.2"/>
<text transform="translate(402.79 323.87) scale(1.040 1) rotate(-45)" font-size="9.00" font-weight="bold" stroke="#141414" stroke-width="0.28" text-anchor="end" fill="#141414">FMT-PBS</text>
<text transform="translate(428.48 323.98) scale(1.040 1) rotate(-45)" font-size="9.00" font-weight="bold" stroke="#141414" stroke-width="0.28" text-anchor="end" fill="#141414">FMT-NC</text>
<text transform="translate(452.59 324.18) scale(1.040 1) rotate(-45)" font-size="9.00" font-weight="bold" stroke="#141414" stroke-width="0.28" text-anchor="end" fill="#141414">FMT-NAFLD</text>
<text transform="translate(360.92 249.05) rotate(-90)" font-size="9.17" font-weight="bold" stroke="#141414" stroke-width="0.28" text-anchor="middle" fill="#141414">Oil Red Relative Quantification</text>
<line x1="404.00" y1="185.00" x2="443.60" y2="185.00" stroke="#1a1a1a" stroke-width="1.5"/>
<text transform="translate(423.64 181.00)" font-size="10.30" stroke="#141414" stroke-width="0.22" text-anchor="middle" fill="#141414">ns</text>
<line x1="404.00" y1="201.80" x2="420.80" y2="201.80" stroke="#1a1a1a" stroke-width="1.5"/>
<text transform="translate(408.79 202.20)" font-size="13.60" font-weight="bold" stroke="#141414" stroke-width="0.28" text-anchor="middle" fill="#141414">*</text>
<text transform="translate(415.99 202.20)" font-size="13.60" font-weight="bold" stroke="#141414" stroke-width="0.28" text-anchor="middle" fill="#141414">*</text>
<line x1="430.10" y1="201.80" x2="447.10" y2="201.80" stroke="#1a1a1a" stroke-width="1.5"/>
<text transform="translate(438.59 202.20)" font-size="13.60" font-weight="bold" stroke="#141414" stroke-width="0.28" text-anchor="middle" fill="#141414">*</text>
<line x1="551.20" y1="187.70" x2="551.20" y2="311.30" stroke="#262626" stroke-width="1.3"/>
<line x1="545.80" y1="310.70" x2="633.40" y2="310.70" stroke="#262626" stroke-width="1.3"/>
<line x1="545.80" y1="310.70" x2="551.20" y2="310.70" stroke="#262626" stroke-width="1.2"/>
<text transform="translate(543.35 313.73)" font-size="8.80" font-weight="bold" stroke="#141414" stroke-width="0.28" text-anchor="end" fill="#141414">0</text>
<line x1="545.80" y1="286.22" x2="551.20" y2="286.22" stroke="#262626" stroke-width="1.2"/>
<text transform="translate(543.35 289.29)" font-size="8.80" font-weight="bold" stroke="#141414" stroke-width="0.28" text-anchor="end" fill="#141414">2</text>
<line x1="545.80" y1="261.74" x2="551.20" y2="261.74" stroke="#262626" stroke-width="1.2"/>
<text transform="translate(543.35 264.77)" font-size="8.80" font-weight="bold" stroke="#141414" stroke-width="0.28" text-anchor="end" fill="#141414">4</text>
<line x1="545.80" y1="237.26" x2="551.20" y2="237.26" stroke="#262626" stroke-width="1.2"/>
<text transform="translate(543.35 240.29)" font-size="8.80" font-weight="bold" stroke="#141414" stroke-width="0.28" text-anchor="end" fill="#141414">6</text>
<line x1="545.80" y1="212.78" x2="551.20" y2="212.78" stroke="#262626" stroke-width="1.2"/>
<text transform="translate(543.35 215.81)" font-size="8.80" font-weight="bold" stroke="#141414" stroke-width="0.28" text-anchor="end" fill="#141414">8</text>
<line x1="545.80" y1="188.30" x2="551.20" y2="188.30" stroke="#262626" stroke-width="1.2"/>
<text transform="translate(543.35 191.33)" font-size="8.80" font-weight="bold" stroke="#141414" stroke-width="0.28" text-anchor="end" fill="#141414">10</text>
<line x1="568.00" y1="220.12" x2="568.00" y2="211.31" stroke="#6a6a6a" stroke-width="1.0"/>
<line x1="563.60" y1="211.31" x2="572.40" y2="211.31" stroke="#6a6a6a" stroke-width="1.0"/>
<rect x="561.15" y="221.07" width="13.70" height="89.63" fill="#E3BE7B" stroke="#111" stroke-width="1.9"/>
<line x1="568.00" y1="310.70" x2="568.00" y2="315.90" stroke="#262626" stroke-width="1.2"/>
<line x1="592.60" y1="245.22" x2="592.60" y2="237.26" stroke="#6a6a6a" stroke-width="1.0"/>
<line x1="588.20" y1="237.26" x2="597.00" y2="237.26" stroke="#6a6a6a" stroke-width="1.0"/>
<rect x="585.75" y="246.17" width="13.70" height="64.53" fill="#C4DEB0" stroke="#111" stroke-width="1.9"/>
<line x1="592.60" y1="310.70" x2="592.60" y2="315.90" stroke="#262626" stroke-width="1.2"/>
<line x1="617.20" y1="236.28" x2="617.20" y2="224.90" stroke="#6a6a6a" stroke-width="1.0"/>
<line x1="612.80" y1="224.90" x2="621.60" y2="224.90" stroke="#6a6a6a" stroke-width="1.0"/>
<rect x="610.35" y="237.23" width="13.70" height="73.47" fill="#BA9DC8" stroke="#111" stroke-width="1.9"/>
<line x1="617.20" y1="310.70" x2="617.20" y2="315.90" stroke="#262626" stroke-width="1.2"/>
<text transform="translate(570.09 324.37) scale(1.040 1) rotate(-45)" font-size="9.00" font-weight="bold" stroke="#141414" stroke-width="0.28" text-anchor="end" fill="#141414">FMT-PBS</text>
<text transform="translate(595.58 324.48) scale(1.040 1) rotate(-45)" font-size="9.00" font-weight="bold" stroke="#141414" stroke-width="0.28" text-anchor="end" fill="#141414">FMT-NC</text>
<text transform="translate(619.29 324.68) scale(1.040 1) rotate(-45)" font-size="9.00" font-weight="bold" stroke="#141414" stroke-width="0.28" text-anchor="end" fill="#141414">FMT-NAFLD</text>
<text transform="translate(527.51 278.25) rotate(-90)" font-size="8.84" font-weight="bold" stroke="#141414" stroke-width="0.28" text-anchor="middle" fill="#141414">TG of Liver Tissue</text>
<text transform="translate(527.00 210.25) rotate(-90)" font-size="9.18" font-weight="bold" stroke="#141414" stroke-width="0.28" text-anchor="middle" fill="#141414">(mmol/mg)</text>
<line x1="570.30" y1="188.40" x2="609.90" y2="188.40" stroke="#1a1a1a" stroke-width="1.5"/>
<text transform="translate(589.94 184.40)" font-size="10.30" stroke="#141414" stroke-width="0.22" text-anchor="middle" fill="#141414">ns</text>
<line x1="570.30" y1="204.70" x2="586.30" y2="204.70" stroke="#1a1a1a" stroke-width="1.5"/>
<text transform="translate(578.29 205.10)" font-size="13.60" font-weight="bold" stroke="#141414" stroke-width="0.28" text-anchor="middle" fill="#141414">*</text>
<line x1="593.80" y1="204.70" x2="609.90" y2="204.70" stroke="#1a1a1a" stroke-width="1.5"/>
<text transform="translate(601.69 200.70)" font-size="10.30" stroke="#141414" stroke-width="0.22" text-anchor="middle" fill="#141414">ns</text>
<line x1="44.20" y1="384.00" x2="44.20" y2="508.80" stroke="#262626" stroke-width="1.3"/>
<line x1="38.80" y1="508.20" x2="126.70" y2="508.20" stroke="#262626" stroke-width="1.3"/>
<line x1="38.80" y1="508.20" x2="44.20" y2="508.20" stroke="#262626" stroke-width="1.2"/>
<text transform="translate(36.35 511.23)" font-size="8.80" font-weight="bold" stroke="#141414" stroke-width="0.28" text-anchor="end" fill="#141414">0</text>
<line x1="38.80" y1="477.30" x2="44.20" y2="477.30" stroke="#262626" stroke-width="1.2"/>
<text transform="translate(36.35 480.33)" font-size="8.80" font-weight="bold" stroke="#141414" stroke-width="0.28" text-anchor="end" fill="#141414">20</text>
<line x1="38.80" y1="446.40" x2="44.20" y2="446.40" stroke="#262626" stroke-width="1.2"/>
<text transform="translate(36.35 449.43)" font-size="8.80" font-weight="bold" stroke="#141414" stroke-width="0.28" text-anchor="end" fill="#141414">40</text>
<line x1="38.80" y1="415.50" x2="44.20" y2="415.50" stroke="#262626" stroke-width="1.2"/>
<text transform="translate(36.35 418.53)" font-size="8.80" font-weight="bold" stroke="#141414" stroke-width="0.28" text-anchor="end" fill="#141414">60</text>
<line x1="38.80" y1="384.60" x2="44.20" y2="384.60" stroke="#262626" stroke-width="1.2"/>
<text transform="translate(36.35 387.63)" font-size="8.80" font-weight="bold" stroke="#141414" stroke-width="0.28" text-anchor="end" fill="#141414">80</text>
<line x1="60.70" y1="408.24" x2="60.70" y2="394.02" stroke="#6a6a6a" stroke-width="1.0"/>
<line x1="56.30" y1="394.02" x2="65.10" y2="394.02" stroke="#6a6a6a" stroke-width="1.0"/>
<rect x="53.85" y="409.19" width="13.70" height="99.01" fill="#E3BE7B" stroke="#111" stroke-width="1.9"/>
<line x1="60.70" y1="508.20" x2="60.70" y2="513.40" stroke="#262626" stroke-width="1.2"/>
<line x1="85.60" y1="468.49" x2="85.60" y2="463.86" stroke="#6a6a6a" stroke-width="1.0"/>
<line x1="81.20" y1="463.86" x2="90.00" y2="463.86" stroke="#6a6a6a" stroke-width="1.0"/>
<rect x="78.75" y="469.44" width="13.70" height="38.76" fill="#C4DEB0" stroke="#111" stroke-width="1.9"/>
<line x1="85.60" y1="508.20" x2="85.60" y2="513.40" stroke="#262626" stroke-width="1.2"/>
<line x1="110.80" y1="425.39" x2="110.80" y2="391.40" stroke="#6a6a6a" stroke-width="1.0"/>
<line x1="106.40" y1="391.40" x2="115.20" y2="391.40" stroke="#6a6a6a" stroke-width="1.0"/>
<rect x="103.95" y="426.34" width="13.70" height="81.86" fill="#BA9DC8" stroke="#111" stroke-width="1.9"/>
<line x1="110.80" y1="508.20" x2="110.80" y2="513.40" stroke="#262626" stroke-width="1.2"/>
<text transform="translate(62.79 521.87) scale(1.040 1) rotate(-45)" font-size="9.00" font-weight="bold" stroke="#141414" stroke-width="0.28" text-anchor="end" fill="#141414">FMT-PBS</text>
<text transform="translate(88.58 521.98) scale(1.040 1) rotate(-45)" font-size="9.00" font-weight="bold" stroke="#141414" stroke-width="0.28" text-anchor="end" fill="#141414">FMT-NC</text>
<text transform="translate(112.89 522.18) scale(1.040 1) rotate(-45)" font-size="9.00" font-weight="bold" stroke="#141414" stroke-width="0.28" text-anchor="end" fill="#141414">FMT-NAFLD</text>
<text transform="translate(19.59 462.66) rotate(-90)" font-size="8.70" font-weight="bold" stroke="#141414" stroke-width="0.28" text-anchor="middle" fill="#141414">ALT</text>
<text transform="translate(19.52 437.65) rotate(-90)" font-size="9.37" font-weight="bold" stroke="#141414" stroke-width="0.28" text-anchor="middle" fill="#141414">(U/L)</text>
<line x1="66.00" y1="369.70" x2="105.80" y2="369.70" stroke="#1a1a1a" stroke-width="1.5"/>
<text transform="translate(85.74 365.70)" font-size="10.30" stroke="#141414" stroke-width="0.22" text-anchor="middle" fill="#141414">ns</text>
<line x1="66.00" y1="385.60" x2="82.80" y2="385.60" stroke="#1a1a1a" stroke-width="1.5"/>
<text transform="translate(74.39 386.00)" font-size="13.60" font-weight="bold" stroke="#141414" stroke-width="0.28" text-anchor="middle" fill="#141414">*</text>
<line x1="88.90" y1="385.60" x2="105.80" y2="385.60" stroke="#1a1a1a" stroke-width="1.5"/>
<text transform="translate(97.19 381.60)" font-size="10.30" stroke="#141414" stroke-width="0.22" text-anchor="middle" fill="#141414">ns</text>
<line x1="184.60" y1="383.60" x2="184.60" y2="508.70" stroke="#262626" stroke-width="1.3"/>
<line x1="179.20" y1="508.10" x2="267.10" y2="508.10" stroke="#262626" stroke-width="1.3"/>
<line x1="179.20" y1="508.10" x2="184.60" y2="508.10" stroke="#262626" stroke-width="1.2"/>
<text transform="translate(176.75 511.13)" font-size="8.80" font-weight="bold" stroke="#141414" stroke-width="0.28" text-anchor="end" fill="#141414">0</text>
<line x1="179.20" y1="477.12" x2="184.60" y2="477.12" stroke="#262626" stroke-width="1.2"/>
<text transform="translate(176.75 480.15)" font-size="8.80" font-weight="bold" stroke="#141414" stroke-width="0.28" text-anchor="end" fill="#141414">50</text>
<line x1="179.20" y1="446.15" x2="184.60" y2="446.15" stroke="#262626" stroke-width="1.2"/>
<text transform="translate(176.75 449.18)" font-size="8.80" font-weight="bold" stroke="#141414" stroke-width="0.28" text-anchor="end" fill="#141414">100</text>
<line x1="179.20" y1="415.18" x2="184.60" y2="415.18" stroke="#262626" stroke-width="1.2"/>
<text transform="translate(176.75 418.20)" font-size="8.80" font-weight="bold" stroke="#141414" stroke-width="0.28" text-anchor="end" fill="#141414">150</text>
<line x1="179.20" y1="384.20" x2="184.60" y2="384.20" stroke="#262626" stroke-width="1.2"/>
<text transform="translate(176.75 387.23)" font-size="8.80" font-weight="bold" stroke="#141414" stroke-width="0.28" text-anchor="end" fill="#141414">200</text>
<line x1="201.10" y1="418.09" x2="201.10" y2="403.40" stroke="#6a6a6a" stroke-width="1.0"/>
<line x1="196.70" y1="403.40" x2="205.50" y2="403.40" stroke="#6a6a6a" stroke-width="1.0"/>
<rect x="194.25" y="419.04" width="13.70" height="89.06" fill="#E3BE7B" stroke="#111" stroke-width="1.9"/>
<line x1="201.10" y1="508.10" x2="201.10" y2="513.30" stroke="#262626" stroke-width="1.2"/>
<line x1="225.90" y1="461.76" x2="225.90" y2="457.49" stroke="#6a6a6a" stroke-width="1.0"/>
<line x1="221.50" y1="457.49" x2="230.30" y2="457.49" stroke="#6a6a6a" stroke-width="1.0"/>
<rect x="219.05" y="462.71" width="13.70" height="45.39" fill="#C4DEB0" stroke="#111" stroke-width="1.9"/>
<line x1="225.90" y1="508.10" x2="225.90" y2="513.30" stroke="#262626" stroke-width="1.2"/>
<line x1="250.80" y1="443.05" x2="250.80" y2="426.45" stroke="#6a6a6a" stroke-width="1.0"/>
<line x1="246.40" y1="426.45" x2="255.20" y2="426.45" stroke="#6a6a6a" stroke-width="1.0"/>
<rect x="243.95" y="444.00" width="13.70" height="64.10" fill="#BA9DC8" stroke="#111" stroke-width="1.9"/>
<line x1="250.80" y1="508.10" x2="250.80" y2="513.30" stroke="#262626" stroke-width="1.2"/>
<text transform="translate(203.19 521.77) scale(1.040 1) rotate(-45)" font-size="9.00" font-weight="bold" stroke="#141414" stroke-width="0.28" text-anchor="end" fill="#141414">FMT-PBS</text>
<text transform="translate(228.88 521.88) scale(1.040 1) rotate(-45)" font-size="9.00" font-weight="bold" stroke="#141414" stroke-width="0.28" text-anchor="end" fill="#141414">FMT-NC</text>
<text transform="translate(252.89 522.08) scale(1.040 1) rotate(-45)" font-size="9.00" font-weight="bold" stroke="#141414" stroke-width="0.28" text-anchor="end" fill="#141414">FMT-NAFLD</text>
<text transform="translate(154.44 462.66) rotate(-90)" font-size="8.70" font-weight="bold" stroke="#141414" stroke-width="0.28" text-anchor="middle" fill="#141414">AST</text>
<text transform="translate(154.21 436.30) rotate(-90)" font-size="9.14" font-weight="bold" stroke="#141414" stroke-width="0.28" text-anchor="middle" fill="#141414">(U/L)</text>
<line x1="206.00" y1="380.70" x2="245.70" y2="380.70" stroke="#1a1a1a" stroke-width="1.5"/>
<text transform="translate(225.69 376.70)" font-size="10.30" stroke="#141414" stroke-width="0.22" text-anchor="middle" fill="#141414">ns</text>
<line x1="206.00" y1="396.00" x2="222.10" y2="396.00" stroke="#1a1a1a" stroke-width="1.5"/>
<text transform="translate(214.04 396.40)" font-size="13.60" font-weight="bold" stroke="#141414" stroke-width="0.28" text-anchor="middle" fill="#141414">*</text>
<line x1="229.00" y1="396.00" x2="245.70" y2="396.00" stroke="#1a1a1a" stroke-width="1.5"/>
<text transform="translate(237.19 392.00)" font-size="10.30" stroke="#141414" stroke-width="0.22" text-anchor="middle" fill="#141414">ns</text>
<line x1="321.20" y1="383.30" x2="321.20" y2="508.70" stroke="#262626" stroke-width="1.3"/>
<line x1="315.80" y1="508.10" x2="404.40" y2="508.10" stroke="#262626" stroke-width="1.3"/>
<line x1="315.80" y1="508.10" x2="321.20" y2="508.10" stroke="#262626" stroke-width="1.2"/>
<text transform="translate(313.35 511.13)" font-size="8.80" font-weight="bold" stroke="#141414" stroke-width="0.28" text-anchor="end" fill="#141414">0.0</text>
<line x1="315.80" y1="466.70" x2="321.20" y2="466.70" stroke="#262626" stroke-width="1.2"/>
<text transform="translate(313.35 469.73)" font-size="8.80" font-weight="bold" stroke="#141414" stroke-width="0.28" text-anchor="end" fill="#141414">0.5</text>
<line x1="315.80" y1="425.30" x2="321.20" y2="425.30" stroke="#262626" stroke-width="1.2"/>
<text transform="translate(313.35 428.33)" font-size="8.80" font-weight="bold" stroke="#141414" stroke-width="0.28" text-anchor="end" fill="#141414">1.0</text>
<line x1="315.80" y1="383.90" x2="321.20" y2="383.90" stroke="#262626" stroke-width="1.2"/>
<text transform="translate(313.35 386.88)" font-size="8.80" font-weight="bold" stroke="#141414" stroke-width="0.28" text-anchor="end" fill="#141414">1.5</text>
<line x1="338.20" y1="434.08" x2="338.20" y2="426.38" stroke="#6a6a6a" stroke-width="1.0"/>
<line x1="333.80" y1="426.38" x2="342.60" y2="426.38" stroke="#6a6a6a" stroke-width="1.0"/>
<rect x="331.35" y="435.03" width="13.70" height="73.07" fill="#E3BE7B" stroke="#111" stroke-width="1.9"/>
<line x1="338.20" y1="508.10" x2="338.20" y2="513.30" stroke="#262626" stroke-width="1.2"/>
<line x1="363.40" y1="450.31" x2="363.40" y2="447.41" stroke="#6a6a6a" stroke-width="1.0"/>
<line x1="359.00" y1="447.41" x2="367.80" y2="447.41" stroke="#6a6a6a" stroke-width="1.0"/>
<rect x="356.55" y="451.26" width="13.70" height="56.84" fill="#C4DEB0" stroke="#111" stroke-width="1.9"/>
<line x1="363.40" y1="508.10" x2="363.40" y2="513.30" stroke="#262626" stroke-width="1.2"/>
<line x1="388.30" y1="447.41" x2="388.30" y2="446.00" stroke="#6a6a6a" stroke-width="1.0"/>
<line x1="383.90" y1="446.00" x2="392.70" y2="446.00" stroke="#6a6a6a" stroke-width="1.0"/>
<rect x="381.45" y="448.36" width="13.70" height="59.74" fill="#BA9DC8" stroke="#111" stroke-width="1.9"/>
<line x1="388.30" y1="508.10" x2="388.30" y2="513.30" stroke="#262626" stroke-width="1.2"/>
<text transform="translate(340.29 521.77) scale(1.040 1) rotate(-45)" font-size="9.00" font-weight="bold" stroke="#141414" stroke-width="0.28" text-anchor="end" fill="#141414">FMT-PBS</text>
<text transform="translate(366.38 521.88) scale(1.040 1) rotate(-45)" font-size="9.00" font-weight="bold" stroke="#141414" stroke-width="0.28" text-anchor="end" fill="#141414">FMT-NC</text>
<text transform="translate(390.39 522.08) scale(1.040 1) rotate(-45)" font-size="9.00" font-weight="bold" stroke="#141414" stroke-width="0.28" text-anchor="end" fill="#141414">FMT-NAFLD</text>
<text transform="translate(295.09 471.03) rotate(-90)" font-size="8.82" font-weight="bold" stroke="#141414" stroke-width="0.28" text-anchor="middle" fill="#141414">TG</text>
<text transform="translate(294.92 439.65) rotate(-90)" font-size="9.17" font-weight="bold" stroke="#141414" stroke-width="0.28" text-anchor="middle" fill="#141414">(mmol/L)</text>
<line x1="341.00" y1="404.80" x2="380.80" y2="404.80" stroke="#1a1a1a" stroke-width="1.5"/>
<text transform="translate(360.74 400.80)" font-size="10.30" stroke="#141414" stroke-width="0.22" text-anchor="middle" fill="#141414">ns</text>
<line x1="341.00" y1="420.30" x2="357.50" y2="420.30" stroke="#1a1a1a" stroke-width="1.5"/>
<text transform="translate(349.09 416.30)" font-size="10.30" stroke="#141414" stroke-width="0.22" text-anchor="middle" fill="#141414">ns</text>
<line x1="365.00" y1="420.30" x2="380.80" y2="420.30" stroke="#1a1a1a" stroke-width="1.5"/>
<text transform="translate(372.74 416.30)" font-size="10.30" stroke="#141414" stroke-width="0.22" text-anchor="middle" fill="#141414">ns</text>
<line x1="451.40" y1="383.60" x2="451.40" y2="508.50" stroke="#262626" stroke-width="1.3"/>
<line x1="446.00" y1="507.90" x2="534.00" y2="507.90" stroke="#262626" stroke-width="1.3"/>
<line x1="446.00" y1="507.90" x2="451.40" y2="507.90" stroke="#262626" stroke-width="1.2"/>
<text transform="translate(443.55 510.93)" font-size="8.80" font-weight="bold" stroke="#141414" stroke-width="0.28" text-anchor="end" fill="#141414">0</text>
<line x1="446.00" y1="476.97" x2="451.40" y2="476.97" stroke="#262626" stroke-width="1.2"/>
<text transform="translate(443.55 480.00)" font-size="8.80" font-weight="bold" stroke="#141414" stroke-width="0.28" text-anchor="end" fill="#141414">1</text>
<line x1="446.00" y1="446.05" x2="451.40" y2="446.05" stroke="#262626" stroke-width="1.2"/>
<text transform="translate(443.55 449.12)" font-size="8.80" font-weight="bold" stroke="#141414" stroke-width="0.28" text-anchor="end" fill="#141414">2</text>
<line x1="446.00" y1="415.12" x2="451.40" y2="415.12" stroke="#262626" stroke-width="1.2"/>
<text transform="translate(443.55 418.15)" font-size="8.80" font-weight="bold" stroke="#141414" stroke-width="0.28" text-anchor="end" fill="#141414">3</text>
<line x1="446.00" y1="384.20" x2="451.40" y2="384.20" stroke="#262626" stroke-width="1.2"/>
<text transform="translate(443.55 387.23)" font-size="8.80" font-weight="bold" stroke="#141414" stroke-width="0.28" text-anchor="end" fill="#141414">4</text>
<line x1="468.30" y1="404.30" x2="468.30" y2="401.83" stroke="#6a6a6a" stroke-width="1.0"/>
<line x1="463.90" y1="401.83" x2="472.70" y2="401.83" stroke="#6a6a6a" stroke-width="1.0"/>
<rect x="461.45" y="405.25" width="13.70" height="102.65" fill="#E3BE7B" stroke="#111" stroke-width="1.9"/>
<line x1="468.30" y1="507.90" x2="468.30" y2="513.10" stroke="#262626" stroke-width="1.2"/>
<line x1="492.90" y1="444.19" x2="492.90" y2="431.21" stroke="#6a6a6a" stroke-width="1.0"/>
<line x1="488.50" y1="431.21" x2="497.30" y2="431.21" stroke="#6a6a6a" stroke-width="1.0"/>
<rect x="486.05" y="445.14" width="13.70" height="62.76" fill="#C4DEB0" stroke="#111" stroke-width="1.9"/>
<line x1="492.90" y1="507.90" x2="492.90" y2="513.10" stroke="#262626" stroke-width="1.2"/>
<line x1="517.80" y1="423.17" x2="517.80" y2="414.82" stroke="#6a6a6a" stroke-width="1.0"/>
<line x1="513.40" y1="414.82" x2="522.20" y2="414.82" stroke="#6a6a6a" stroke-width="1.0"/>
<rect x="510.95" y="424.12" width="13.70" height="83.78" fill="#BA9DC8" stroke="#111" stroke-width="1.9"/>
<line x1="517.80" y1="507.90" x2="517.80" y2="513.10" stroke="#262626" stroke-width="1.2"/>
<text transform="translate(470.39 521.57) scale(1.040 1) rotate(-45)" font-size="9.00" font-weight="bold" stroke="#141414" stroke-width="0.28" text-anchor="end" fill="#141414">FMT-PBS</text>
<text transform="translate(495.88 521.68) scale(1.040 1) rotate(-45)" font-size="9.00" font-weight="bold" stroke="#141414" stroke-width="0.28" text-anchor="end" fill="#141414">FMT-NC</text>
<text transform="translate(519.89 521.88) scale(1.040 1) rotate(-45)" font-size="9.00" font-weight="bold" stroke="#141414" stroke-width="0.28" text-anchor="end" fill="#141414">FMT-NAFLD</text>
<text transform="translate(432.31 471.73) rotate(-90)" font-size="8.73" font-weight="bold" stroke="#141414" stroke-width="0.28" text-anchor="middle" fill="#141414">TC</text>
<text transform="translate(432.10 440.30) rotate(-90)" font-size="9.49" font-weight="bold" stroke="#141414" stroke-width="0.28" text-anchor="middle" fill="#141414">(mmol/L)</text>
<line x1="471.00" y1="380.00" x2="510.90" y2="380.00" stroke="#1a1a1a" stroke-width="1.5"/>
<text transform="translate(490.99 376.28)" font-size="7.20" stroke="#141414" stroke-width="0.22" text-anchor="middle" fill="#141414">0.0771</text>
<line x1="471.30" y1="396.20" x2="488.40" y2="396.20" stroke="#1a1a1a" stroke-width="1.5"/>
<text transform="translate(479.84 396.60)" font-size="13.60" font-weight="bold" stroke="#141414" stroke-width="0.28" text-anchor="middle" fill="#141414">*</text>
<line x1="495.00" y1="396.20" x2="511.20" y2="396.20" stroke="#1a1a1a" stroke-width="1.5"/>
<text transform="translate(502.94 392.20)" font-size="10.30" stroke="#141414" stroke-width="0.22" text-anchor="middle" fill="#141414">ns</text>
<line x1="583.00" y1="383.60" x2="583.00" y2="508.50" stroke="#262626" stroke-width="1.3"/>
<line x1="577.60" y1="507.90" x2="665.30" y2="507.90" stroke="#262626" stroke-width="1.3"/>
<line x1="577.60" y1="507.90" x2="583.00" y2="507.90" stroke="#262626" stroke-width="1.2"/>
<text transform="translate(575.15 510.93)" font-size="8.80" font-weight="bold" stroke="#141414" stroke-width="0.28" text-anchor="end" fill="#141414">0</text>
<line x1="577.60" y1="483.16" x2="583.00" y2="483.16" stroke="#262626" stroke-width="1.2"/>
<text transform="translate(575.15 486.23)" font-size="8.80" font-weight="bold" stroke="#141414" stroke-width="0.28" text-anchor="end" fill="#141414">2</text>
<line x1="577.60" y1="458.42" x2="583.00" y2="458.42" stroke="#262626" stroke-width="1.2"/>
<text transform="translate(575.15 461.45)" font-size="8.80" font-weight="bold" stroke="#141414" stroke-width="0.28" text-anchor="end" fill="#141414">4</text>
<line x1="577.60" y1="433.68" x2="583.00" y2="433.68" stroke="#262626" stroke-width="1.2"/>
<text transform="translate(575.15 436.71)" font-size="8.80" font-weight="bold" stroke="#141414" stroke-width="0.28" text-anchor="end" fill="#141414">6</text>
<line x1="577.60" y1="408.94" x2="583.00" y2="408.94" stroke="#262626" stroke-width="1.2"/>
<text transform="translate(575.15 411.97)" font-size="8.80" font-weight="bold" stroke="#141414" stroke-width="0.28" text-anchor="end" fill="#141414">8</text>
<line x1="577.60" y1="384.20" x2="583.00" y2="384.20" stroke="#262626" stroke-width="1.2"/>
<text transform="translate(575.15 387.23)" font-size="8.80" font-weight="bold" stroke="#141414" stroke-width="0.28" text-anchor="end" fill="#141414">10</text>
<line x1="599.90" y1="421.31" x2="599.90" y2="418.96" stroke="#6a6a6a" stroke-width="1.0"/>
<line x1="595.50" y1="418.96" x2="604.30" y2="418.96" stroke="#6a6a6a" stroke-width="1.0"/>
<rect x="593.05" y="422.26" width="13.70" height="85.64" fill="#E3BE7B" stroke="#111" stroke-width="1.9"/>
<line x1="599.90" y1="507.90" x2="599.90" y2="513.10" stroke="#262626" stroke-width="1.2"/>
<line x1="624.30" y1="445.43" x2="624.30" y2="443.58" stroke="#6a6a6a" stroke-width="1.0"/>
<line x1="619.90" y1="443.58" x2="628.70" y2="443.58" stroke="#6a6a6a" stroke-width="1.0"/>
<rect x="617.45" y="446.38" width="13.70" height="61.52" fill="#C4DEB0" stroke="#111" stroke-width="1.9"/>
<line x1="624.30" y1="507.90" x2="624.30" y2="513.10" stroke="#262626" stroke-width="1.2"/>
<line x1="649.20" y1="407.70" x2="649.20" y2="405.23" stroke="#6a6a6a" stroke-width="1.0"/>
<line x1="644.80" y1="405.23" x2="653.60" y2="405.23" stroke="#6a6a6a" stroke-width="1.0"/>
<rect x="642.35" y="408.65" width="13.70" height="99.25" fill="#BA9DC8" stroke="#111" stroke-width="1.9"/>
<line x1="649.20" y1="507.90" x2="649.20" y2="513.10" stroke="#262626" stroke-width="1.2"/>
<text transform="translate(601.99 521.57) scale(1.040 1) rotate(-45)" font-size="9.00" font-weight="bold" stroke="#141414" stroke-width="0.28" text-anchor="end" fill="#141414">FMT-PBS</text>
<text transform="translate(627.28 521.68) scale(1.040 1) rotate(-45)" font-size="9.00" font-weight="bold" stroke="#141414" stroke-width="0.28" text-anchor="end" fill="#141414">FMT-NC</text>
<text transform="translate(651.29 521.88) scale(1.040 1) rotate(-45)" font-size="9.00" font-weight="bold" stroke="#141414" stroke-width="0.28" text-anchor="end" fill="#141414">FMT-NAFLD</text>
<text transform="translate(559.36 445.53) rotate(-90)" font-size="8.93" font-weight="bold" stroke="#141414" stroke-width="0.28" text-anchor="middle" fill="#141414">Blood Glucose (mmol/L)</text>
<line x1="601.80" y1="379.90" x2="641.40" y2="379.90" stroke="#1a1a1a" stroke-width="1.5"/>
<text transform="translate(617.99 380.30)" font-size="13.60" font-weight="bold" stroke="#141414" stroke-width="0.28" text-anchor="middle" fill="#141414">*</text>
<text transform="translate(625.19 380.30)" font-size="13.60" font-weight="bold" stroke="#141414" stroke-width="0.28" text-anchor="middle" fill="#141414">*</text>
<line x1="602.00" y1="398.00" x2="616.30" y2="398.00" stroke="#1a1a1a" stroke-width="1.5"/>
<text transform="translate(601.94 398.40)" font-size="13.60" font-weight="bold" stroke="#141414" stroke-width="0.28" text-anchor="middle" fill="#141414">*</text>
<text transform="translate(609.14 398.40)" font-size="13.60" font-weight="bold" stroke="#141414" stroke-width="0.28" text-anchor="middle" fill="#141414">*</text>
<text transform="translate(616.34 398.40)" font-size="13.60" font-weight="bold" stroke="#141414" stroke-width="0.28" text-anchor="middle" fill="#141414">*</text>
<line x1="626.10" y1="398.00" x2="642.90" y2="398.00" stroke="#1a1a1a" stroke-width="1.5"/>
<text transform="translate(627.29 398.40)" font-size="13.60" font-weight="bold" stroke="#141414" stroke-width="0.28" text-anchor="middle" fill="#141414">*</text>
<text transform="translate(634.49 398.40)" font-size="13.60" font-weight="bold" stroke="#141414" stroke-width="0.28" text-anchor="middle" fill="#141414">*</text>
<text transform="translate(641.69 398.40)" font-size="13.60" font-weight="bold" stroke="#141414" stroke-width="0.28" text-anchor="middle" fill="#141414">*</text>
</svg></body></html>
